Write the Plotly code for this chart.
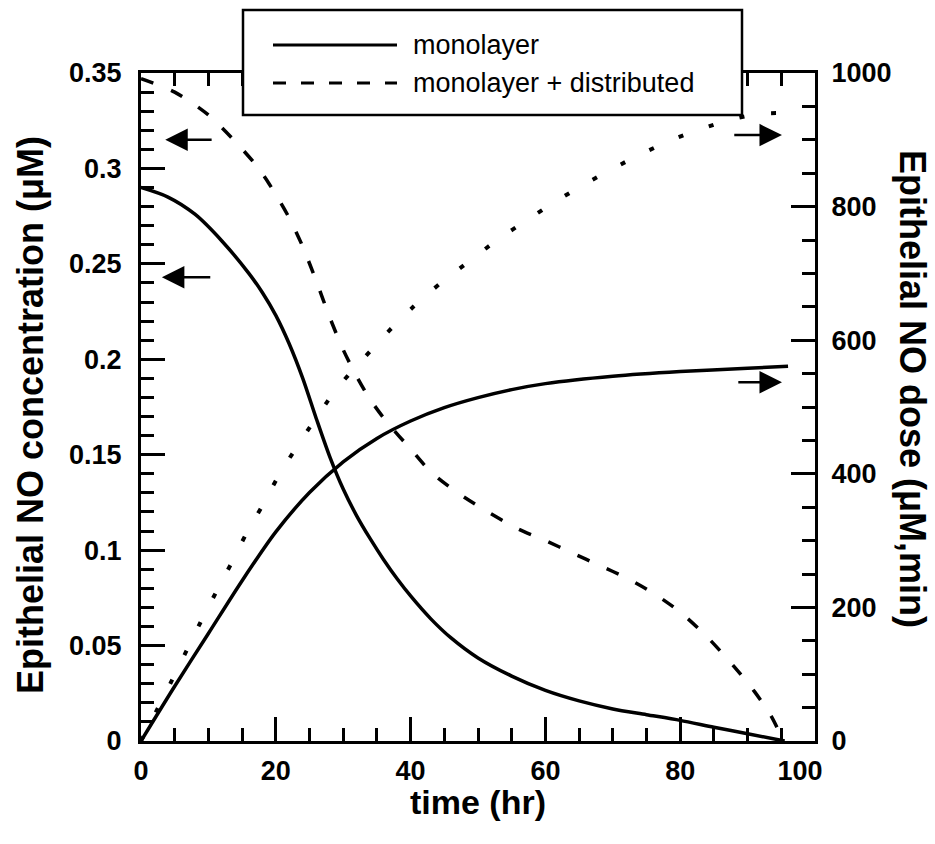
import plotly.graph_objects as go

# ---- data ----
t_conc_mono = [0, 4, 8, 12, 16, 18, 20, 22, 24, 26, 28, 30, 32, 34, 36, 38, 40, 43, 46, 50, 55,
               60, 65, 70, 75, 80, 85, 90, 95.5]
conc_mono = [0.290, 0.285, 0.276, 0.262, 0.245, 0.235, 0.223, 0.208, 0.190, 0.169, 0.149, 0.132,
             0.118, 0.106, 0.095, 0.085, 0.076, 0.064, 0.054, 0.0435, 0.034, 0.0265, 0.021,
             0.0168, 0.0138, 0.0108, 0.0072, 0.0038, 0.0]

t_conc_dist = [0, 5, 10, 14, 17, 19, 22, 24, 26, 28, 30, 32, 34, 36.5, 40, 43, 47, 51, 56, 60,
               64, 68, 72, 76, 80, 84, 88, 91, 93.5, 95.3]
conc_dist = [0.347, 0.340, 0.328, 0.314, 0.302, 0.292, 0.274, 0.259, 0.241, 0.222, 0.205, 0.191,
             0.179, 0.167, 0.153, 0.141, 0.130, 0.121, 0.111, 0.105, 0.0985, 0.0920, 0.0855,
             0.0775, 0.0675, 0.0545, 0.039, 0.026, 0.013, 0.0]

t_dose_mono = [0, 5, 10, 15, 20, 25, 30, 35, 40, 45, 50, 55, 60, 70, 80, 90, 96]
dose_mono = [0, 82, 161, 240, 313, 372, 418, 453, 479, 499, 514, 526, 535, 546, 553, 558, 561]

t_dose_dist = [0, 2.5, 4.6, 6.8, 8.8, 11.1, 13.4, 15.6, 18.0, 20.3, 23.1, 29.1, 32.8, 36.5, 40.4,
               44.4, 48.8, 53.0, 57.3, 61.4, 65.9, 70.2, 74.5, 78.8, 83.1, 87.4, 91.8, 95.8]
dose_dist = [0, 49, 91, 136, 177, 222, 266, 310, 352, 395, 440, 528, 570, 611, 650, 685, 719,
             751, 780, 807, 834, 858, 880, 900, 916, 930, 939, 940]

left_tickvals = [0, 0.05, 0.1, 0.15, 0.2, 0.25, 0.3, 0.35]
left_ticktext = ["0", "0.05", "0.1", "0.15", "0.2", "0.25", "0.3", "0.35"]
right_tickvals = [0, 200, 400, 600, 800, 1000]
x_tickvals = [0, 20, 40, 60, 80, 100]
x_ticktext = ["0", "20", "40", "60", "80", "100\u00a0\u00a0\u00a0\u00a0"]

legend_labels = ["monolayer", "monolayer + distributed"]

# arrows: (tip_x, tail_x, y)
left_arrows = [(3.6, 10.7, 0.315), (3.1, 10.5, 0.243)]
right_arrows = [(95.1, 87.8, 907), (95.1, 88.4, 537)]

FONT = "Liberation Sans, Arial, Helvetica, sans-serif"
W, H = 935, 844
ML, MR, MT, MB = 141, 120, 73, 103
PW, PH = W - ML - MR, H - MT - MB


def px2paper(px, py):
    return (px - ML) / PW, (H - MB - py) / PH


fig = go.Figure()
fig.add_trace(go.Scatter(x=t_conc_mono, y=conc_mono, mode="lines", yaxis="y",
                         line=dict(color="black", width=3.5, shape="spline", smoothing=0.8),
                         showlegend=False))
fig.add_trace(go.Scatter(x=t_conc_dist, y=conc_dist, mode="lines", yaxis="y",
                         line=dict(color="black", width=3.5, dash="13px,19px", shape="spline",
                                   smoothing=0.8),
                         showlegend=False))
fig.add_trace(go.Scatter(x=t_dose_mono, y=dose_mono, mode="lines", yaxis="y2",
                         line=dict(color="black", width=3.5, shape="spline", smoothing=0.8),
                         showlegend=False))
fig.add_trace(go.Scatter(x=t_dose_dist, y=dose_dist, mode="lines", yaxis="y2",
                         line=dict(color="black", width=4, dash="5px,27px", shape="spline",
                                   smoothing=0.8),
                         showlegend=False))

tickfont = dict(family=FONT, size=27, color="black", weight="bold")
axis_common = dict(showgrid=False, zeroline=False, showline=True, linecolor="black",
                   linewidth=3, ticks="inside", tickcolor="black", tickwidth=2.5, ticklen=24,
                   tickfont=tickfont)

fig.update_layout(
    width=W, height=H,
    margin=dict(l=ML, r=MR, t=MT, b=MB),
    paper_bgcolor="white", plot_bgcolor="white",
    xaxis=dict(range=[0, 100], tickvals=x_tickvals, ticktext=x_ticktext, mirror="ticks",
               minor=dict(dtick=5, ticks="inside", ticklen=13, tickwidth=2.5,
                          tickcolor="black", showgrid=False),
               ticklabelstandoff=4, **axis_common),
    yaxis=dict(range=[0, 0.35], tickvals=left_tickvals, ticktext=left_ticktext,
               minor=dict(dtick=0.01, ticks="inside", ticklen=13, tickwidth=2.5,
                          tickcolor="black", showgrid=False),
               ticklabelstandoff=11, **axis_common),
    yaxis2=dict(range=[0, 1000], tickvals=right_tickvals, overlaying="y", side="right",
                minor=dict(dtick=50, ticks="inside", ticklen=13, tickwidth=2.5,
                           tickcolor="black", showgrid=False),
                ticklabelstandoff=8, **axis_common),
    showlegend=False,
)

ann = []
x0, y0 = px2paper(478, 802)
ann.append(dict(xref="paper", yref="paper", x=x0, y=y0, text="time (hr)", showarrow=False,
                font=dict(family=FONT, size=34, color="black", weight="bold"),
                xanchor="center", yanchor="middle"))
ytitlefont = dict(family=FONT, size=36, color="black", weight="bold")
x0, y0 = px2paper(30, 415)
ann.append(dict(xref="paper", yref="paper", x=x0, y=y0,
                text="Epithelial NO concentration (μM)", showarrow=False, textangle=-90,
                font=ytitlefont, xanchor="center", yanchor="middle"))
x0, y0 = px2paper(912, 389)
ann.append(dict(xref="paper", yref="paper", x=x0, y=y0,
                text="Epithelial NO dose (μM,min)", showarrow=False, textangle=90,
                font=ytitlefont, xanchor="center", yanchor="middle"))

for tip, tail, yv in left_arrows:
    ann.append(dict(x=tip, y=yv, ax=tail, ay=yv, xref="x", yref="y", axref="x", ayref="y",
                    text="", showarrow=True, arrowhead=2, arrowsize=1.8, arrowwidth=2.5,
                    arrowcolor="black"))
for tip, tail, yv in right_arrows:
    ann.append(dict(x=tip, y=yv, ax=tail, ay=yv, xref="x", yref="y2", axref="x", ayref="y2",
                    text="", showarrow=True, arrowhead=2, arrowsize=1.8, arrowwidth=2.5,
                    arrowcolor="black"))

# manual legend box
bx0, by0 = px2paper(243, 115)
bx1, by1 = px2paper(742, 10)
shapes = [dict(type="rect", xref="paper", yref="paper", x0=bx0, y0=by0, x1=bx1, y1=by1,
               fillcolor="white", line=dict(color="black", width=2.5), layer="above")]
rows_py = [45, 83]
dashes = ["solid", "13px,15px"]
for lbl, py, d in zip(legend_labels, rows_py, dashes):
    lx0, ly = px2paper(273, py)
    lx1, _ = px2paper(397, py)
    shapes.append(dict(type="line", xref="paper", yref="paper", x0=lx0, x1=lx1, y0=ly, y1=ly,
                       line=dict(color="black", width=3, dash=d), layer="above"))
    tx, _ = px2paper(411, py)
    ann.append(dict(xref="paper", yref="paper", x=tx, y=ly, text=lbl, showarrow=False,
                    xanchor="left", yanchor="middle",
                    font=dict(family=FONT, size=27, color="black")))

fig.update_layout(annotations=ann, shapes=shapes)
fig.write_html("out.html")
